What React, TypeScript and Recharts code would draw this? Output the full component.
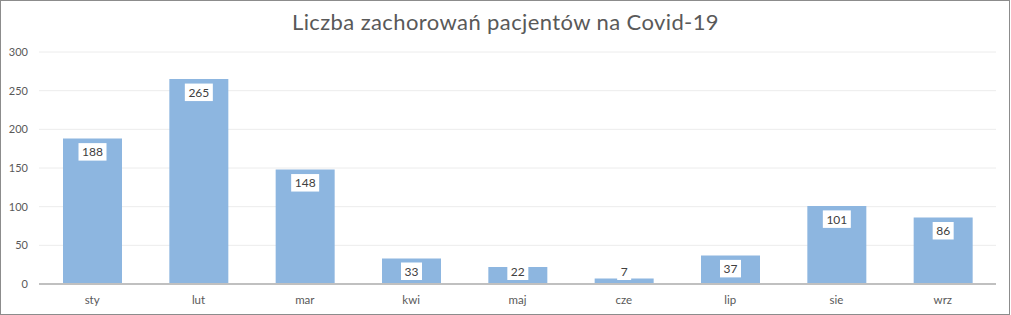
import React from "react";
import {
  BarChart,
  Bar,
  XAxis,
  YAxis,
  CartesianGrid,
  LabelList,
} from "recharts";

const months = ["sty", "lut", "mar", "kwi", "maj", "cze", "lip", "sie", "wrz"];
const cases = [188, 265, 148, 33, 22, 7, 37, 101, 86];
const yTicks = [0, 50, 100, 150, 200, 250, 300];

const data = months.map((m, i) => ({ month: m, cases: cases[i] }));

const FONT = "Lato, 'Open Sans', sans-serif";

// white box with the value, placed just below the top of the bar
const ValueLabel = (props: any) => {
  const { x, y, width, height, value } = props;
  const zero = Number(y) + Number(height);
  const text = String(value);
  const w = text.length * 7 + 7;
  const h = 17.5;
  const top = Math.min(Number(y) + 4.5, zero - 4 - h);
  const cx = Number(x) + Number(width) / 2;
  return (
    <g>
      <rect x={cx - w / 2} y={top} width={w} height={h} fill="#ffffff" />
      <text
        x={cx}
        y={top + h / 2}
        textAnchor="middle"
        dominantBaseline="central"
        fontSize={12}
        fontFamily={FONT}
        fill="#404040"
      >
        {text}
      </text>
    </g>
  );
};

export default function App() {
  return (
    <div
      style={{
        position: "relative",
        width: 1011,
        height: 315,
        fontFamily: FONT,
      }}
    >
      <style>{"body{margin:0}"}</style>
      <div
        style={{
          position: "absolute",
          left: 0,
          top: 0,
          width: 1010,
          height: 315,
          boxSizing: "border-box",
          border: "1px solid #8c8c8c",
          background: "#fff",
        }}
      />
      <div
        style={{
          position: "absolute",
          top: 9,
          left: 0,
          width: 1011,
          textAlign: "center",
          fontSize: 22,
          letterSpacing: 0.4,
          lineHeight: 1.2,
          color: "#595959",
        }}
      >
        Liczba zachorowań pacjentów na Covid-19
      </div>
      <div style={{ position: "absolute", left: 0, top: 0 }}>
        <BarChart
          width={1011}
          height={315}
          data={data}
          margin={{ top: 52, right: 15, bottom: 1, left: 0 }}
        >
          <CartesianGrid vertical={false} stroke="#ececec" />
          <XAxis
            dataKey="month"
            height={30}
            tickLine={false}
            axisLine={{ stroke: "#c0c0c0", strokeWidth: 2 }}
            tick={{ fill: "#595959", fontSize: 11.5, fontFamily: FONT }}
            tickMargin={6}
            interval={0}
          />
          <YAxis
            width={39}
            domain={[0, 300]}
            ticks={yTicks}
            tickLine={false}
            axisLine={false}
            tick={{ fill: "#595959", fontSize: 11, fontFamily: FONT }}
            tickMargin={5}
          />
          <Bar
            dataKey="cases"
            fill="#8db6e0"
            barSize={59}
            isAnimationActive={false}
          >
            <LabelList dataKey="cases" content={ValueLabel} />
          </Bar>
        </BarChart>
      </div>
    </div>
  );
}
